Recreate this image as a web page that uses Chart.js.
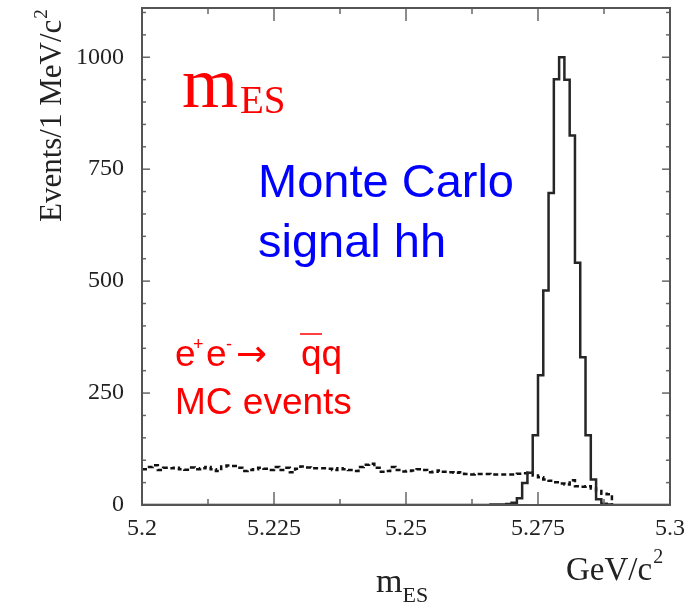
<!DOCTYPE html>
<html>
<head>
<meta charset="utf-8">
<script src="https://cdn.jsdelivr.net/npm/chart.js@4"></script>
<style>
  html, body { margin: 0; padding: 0; background: #fff; }
  #c { display: block; }
</style>
</head>
<body>
<canvas id="c" width="694" height="607"></canvas>
<script>
// bins of 1 MeV/c^2 starting at 5.200 GeV/c^2
const binStart = 5.2;
const binWidth = 0.001;

// Monte Carlo signal hh (solid histogram), 100 bins
const signal = [
  0, 0, 0, 0, 0, 0, 0, 0, 0, 0,
  0, 0, 0, 0, 0, 0, 0, 0, 0, 0,
  0, 0, 0, 0, 0, 0, 0, 0, 0, 0,
  0, 0, 0, 0, 0, 0, 0, 0, 0, 0,
  0, 0, 0, 0, 0, 0, 0, 0, 0, 0,
  0, 0, 0, 0, 0, 0, 0, 0, 0, 0,
  0, 0, 0, 0, 0, 0, 1, 1, 1, 2,
  5, 15, 49, 72, 156, 290, 479, 697, 951, 1000,
  950, 825, 541, 330, 156, 57, 13, 3, 1, 0,
  0, 0, 0, 0, 0, 0, 0, 0, 0, 0
];

// e+e- -> qq MC events (dashed histogram), ends near 5.289
const background = [
  80, 85, 89, 78, 83, 82, 83, 80, 79, 84,
  80, 82, 85, 80, 76, 86, 88, 87, 83, 76,
  78, 80, 83, 81, 78, 85, 78, 83, 73, 81,
  86, 84, 82, 82, 82, 81, 78, 82, 80, 78,
  76, 85, 90, 92, 83, 74, 76, 85, 78, 75,
  76, 77, 80, 78, 73, 74, 77, 74, 73, 72,
  73, 69, 68, 69, 69, 69, 68, 68, 68, 68,
  68, 70, 71, 72, 66, 62, 57, 54, 51, 48,
  46, 55, 42, 41, 42, 37, 31, 25, 24
];

const xTicks = [5.2, 5.225, 5.25, 5.275, 5.3];
const xTickText = ['5.2', '5.225', '5.25', '5.275', '5.3'];
const yTicks = [0, 250, 500, 750, 1000];

// histogram -> step points at bin left edges, plus closing edge
function steps(vals, closeToZero) {
  const pts = vals.map((v, i) => ({ x: binStart + i * binWidth, y: v }));
  const edge = binStart + vals.length * binWidth;
  pts.push({ x: edge, y: closeToZero ? 0 : vals[vals.length - 1] });
  return pts;
}

const serif = '"Liberation Serif", "DejaVu Serif", serif';
const sans = '"Liberation Sans", Arial, sans-serif';

function line(ctx, x1, y1, x2, y2) {
  ctx.beginPath();
  ctx.moveTo(x1, y1);
  ctx.lineTo(x2, y2);
  ctx.stroke();
}

const decor = {
  id: 'decor',
  afterDraw(chart) {
    const { ctx, chartArea: a, scales: { x, y } } = chart;
    ctx.save();

    // inward ticks on all four sides
    ctx.strokeStyle = '#666';
    ctx.lineWidth = 1.5;
    for (let k = 0; k <= 8; k++) {
      const px = x.getPixelForValue(5.2 + k * 0.0125);
      const len = k % 2 ? 6 : 13;
      line(ctx, px, a.bottom, px, a.bottom - len);
      line(ctx, px, a.top, px, a.top + len);
    }
    for (let v = 0; v <= 1100; v += 50) {
      const py = y.getPixelForValue(v);
      const len = v % 250 ? 4 : 8;
      line(ctx, a.left, py, a.left + len, py);
      line(ctx, a.right, py, a.right - len, py);
    }

    // frame
    ctx.strokeStyle = '#555';
    ctx.lineWidth = 2;
    ctx.strokeRect(a.left, a.top, a.right - a.left, a.bottom - a.top);

    ctx.textBaseline = 'alphabetic';
    ctx.textAlign = 'left';

    // y axis title
    ctx.save();
    ctx.translate(61, 222);
    ctx.rotate(-Math.PI / 2);
    ctx.fillStyle = '#222';
    ctx.font = '31px ' + serif;
    const yt = 'Events/1 MeV/c';
    ctx.fillText(yt, 0, 0);
    const ytw = ctx.measureText(yt).width;
    ctx.font = '19px ' + serif;
    ctx.fillText('2', ytw + 1, -14);
    ctx.restore();

    // x axis unit and title
    ctx.fillStyle = '#222';
    ctx.font = '33px ' + serif;
    ctx.fillText('GeV/c', 566, 580);
    const gw = ctx.measureText('GeV/c').width;
    ctx.font = '20px ' + serif;
    ctx.fillText('2', 566 + gw + 1, 563);

    ctx.font = '34px ' + serif;
    ctx.fillText('m', 376, 592);
    const mw = ctx.measureText('m').width;
    ctx.font = '22px ' + serif;
    ctx.fillText('ES', 376 + mw, 602);

    // red m_ES label
    ctx.fillStyle = '#ff0000';
    ctx.font = '72px ' + serif;
    ctx.fillText('m', 182, 107);
    const bw = ctx.measureText('m').width;
    ctx.font = '39px ' + serif;
    ctx.fillText('ES', 182 + bw + 2, 113);

    // blue label
    ctx.fillStyle = '#0000ff';
    ctx.font = '47px ' + sans;
    ctx.fillText('Monte Carlo', 258, 197);
    ctx.fillText('signal hh', 258, 257);

    // red e+e- -> qq label
    ctx.fillStyle = '#ff0000';
    ctx.font = '37px ' + sans;
    ctx.fillText('e', 175, 366);
    ctx.font = '18px ' + sans;
    ctx.fillText('+', 193, 350);
    ctx.font = '37px ' + sans;
    ctx.fillText('e', 206, 366);
    ctx.font = '18px ' + sans;
    ctx.fillText('-', 226, 350);
    ctx.font = '37px "DejaVu Sans", sans-serif';
    ctx.fillText('\u2192', 236, 366);
    ctx.font = '37px ' + sans;
    ctx.fillText('qq', 301, 366);
    ctx.strokeStyle = '#ff0000';
    ctx.lineWidth = 1.5;
    line(ctx, 300, 334, 322, 334);
    ctx.fillText('MC events', 175, 414);

    ctx.restore();
  }
};

new Chart(document.getElementById('c'), {
  type: 'line',
  data: {
    datasets: [
      {
        label: 'signal hh',
        data: steps(signal, false),
        stepped: true,
        borderColor: '#262626',
        borderWidth: 2.5,
        pointRadius: 0,
        fill: false
      },
      {
        label: 'e+e- -> qq',
        data: steps(background, true),
        stepped: true,
        borderColor: '#111',
        borderWidth: 2.5,
        borderDash: [5, 3],
        pointRadius: 0,
        fill: false
      }
    ]
  },
  options: {
    responsive: false,
    devicePixelRatio: 1,
    animation: false,
    layout: { padding: { top: 8, right: 24, left: 0, bottom: 0 } },
    plugins: { legend: { display: false }, tooltip: { enabled: false } },
    scales: {
      x: {
        type: 'linear',
        min: 5.2,
        max: 5.3,
        afterBuildTicks: s => { s.ticks = xTicks.map(v => ({ value: v })); },
        afterFit: s => { s.height = 102; s.paddingLeft = 0; s.paddingRight = 0; },
        grid: { display: false, drawTicks: false },
        border: { display: false },
        ticks: {
          padding: 9,
          maxRotation: 0,
          autoSkip: false,
          color: '#222',
          font: { family: serif, size: 24 },
          callback: v => xTickText[xTicks.indexOf(v)]
        }
      },
      y: {
        min: 0,
        max: 1110,
        afterBuildTicks: s => { s.ticks = yTicks.map(v => ({ value: v })); },
        afterFit: s => { s.width = 142; s.paddingTop = 0; s.paddingBottom = 0; },
        grid: { display: false, drawTicks: false },
        border: { display: false },
        ticks: {
          padding: 18,
          color: '#222',
          font: { family: serif, size: 24 },
          callback: v => String(v)
        }
      }
    }
  },
  plugins: [decor]
});
</script>
</body>
</html>
